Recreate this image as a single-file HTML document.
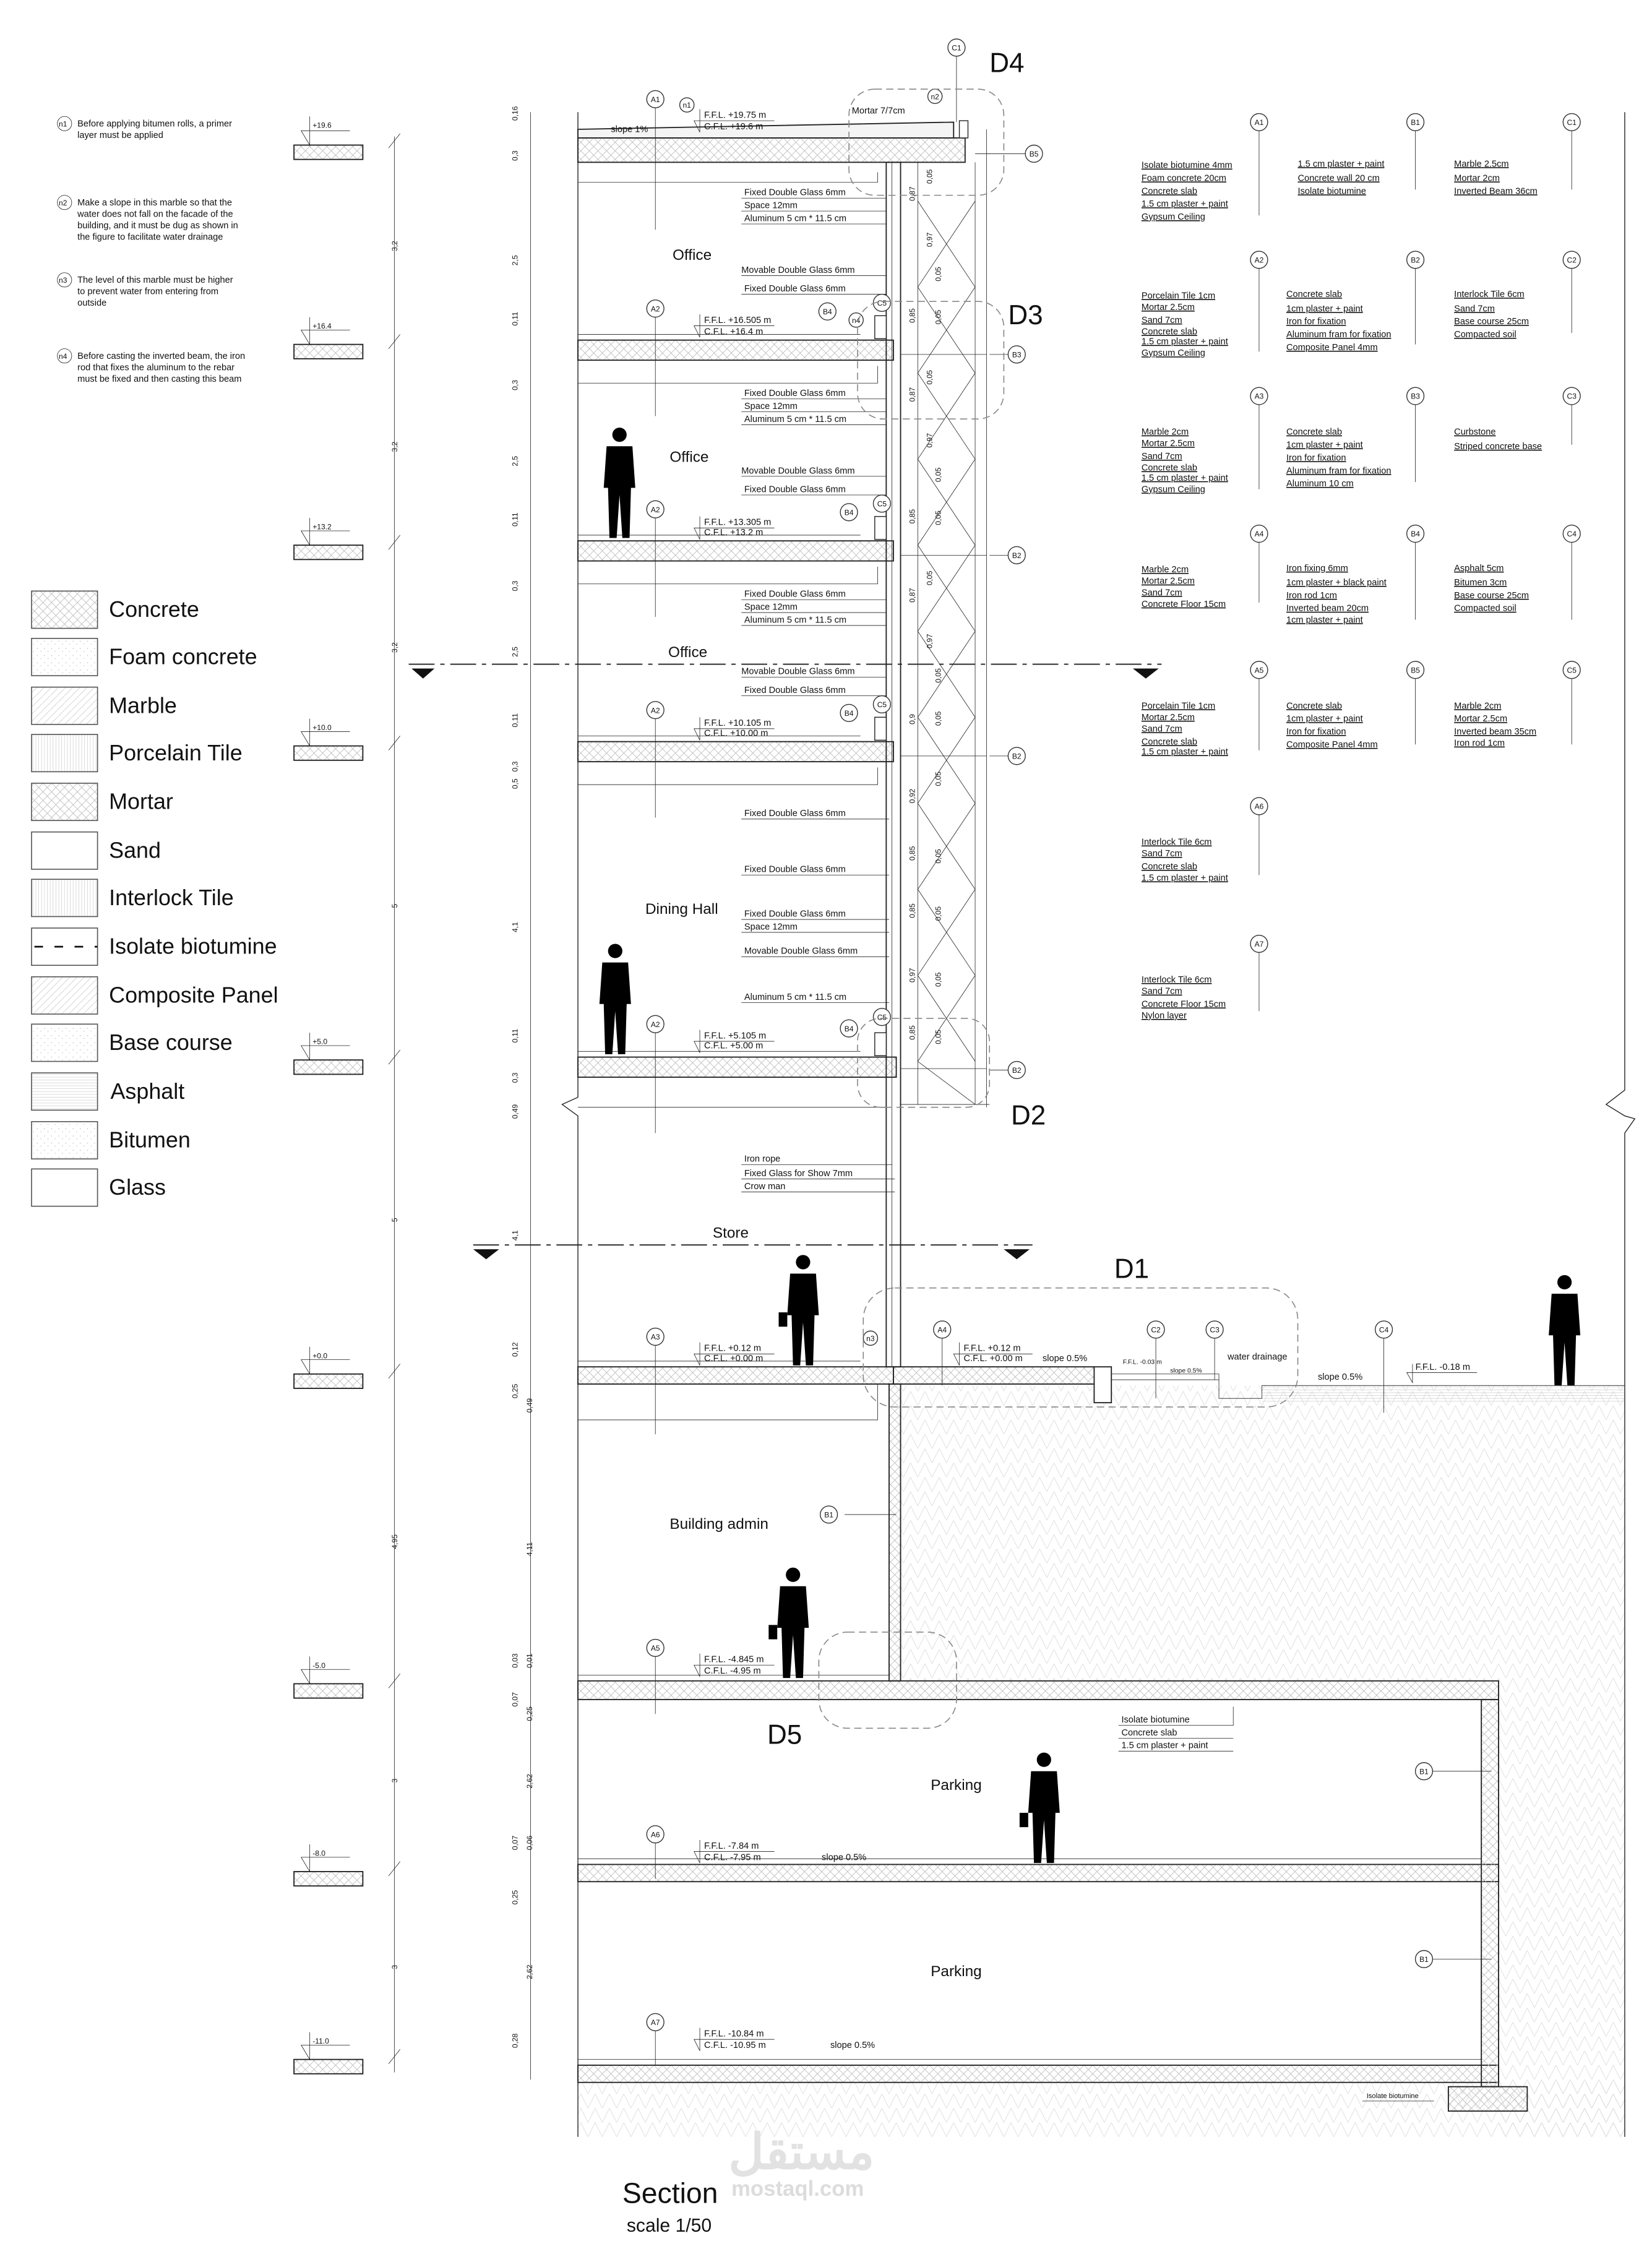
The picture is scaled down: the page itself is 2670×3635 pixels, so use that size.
<!DOCTYPE html>
<html><head><meta charset="utf-8"><style>
html,body{margin:0;padding:0;background:#fff;}
svg{display:block;}
text{font-family:"Liberation Sans",sans-serif;fill:#111;}
.s{font-size:6.3px;}
.t{font-size:5.2px;}
.l{stroke:#222;stroke-width:0.6;fill:none;}
.th{stroke:#222;stroke-width:0.35;fill:none;}
.c{fill:#fff;stroke:#333;stroke-width:0.6;}
.d{stroke:#888;stroke-width:0.7;fill:none;stroke-dasharray:5 3;}
</style></head><body>
<svg width="2670" height="3635" viewBox="0 0 1152 1568" xmlns="http://www.w3.org/2000/svg">
<defs>
<pattern id="cx" width="6" height="6" patternUnits="userSpaceOnUse"><path d="M0 0L6 6M6 0L0 6" stroke="#bbb" stroke-width="0.35"/></pattern>
<pattern id="soil" width="10" height="10" patternUnits="userSpaceOnUse"><path d="M0 10L5 0L10 10" stroke="#ddd" stroke-width="0.4" fill="none"/></pattern>
<pattern id="vt" width="2" height="4" patternUnits="userSpaceOnUse"><path d="M1 0V4" stroke="#ccc" stroke-width="0.3"/></pattern>
<pattern id="hz" width="4" height="2" patternUnits="userSpaceOnUse"><path d="M0 1H4" stroke="#ccc" stroke-width="0.3"/></pattern>
<pattern id="dg" width="5" height="5" patternUnits="userSpaceOnUse"><path d="M0 5L5 0" stroke="#ccc" stroke-width="0.35"/></pattern>
<pattern id="dot" width="5" height="5" patternUnits="userSpaceOnUse"><circle cx="1" cy="2" r="0.35" fill="#bbb"/><circle cx="3.5" cy="4" r="0.3" fill="#bbb"/></pattern>
<g id="man"><circle cx="0" cy="-72" r="5"/><path d="M-9 -64 L9 -64 L11 -35 L8 -35 L7 0 L2 0 L0 -30 L-2 0 L-7 0 L-8 -35 L-11 -35 Z"/></g>
</defs>

<!-- notes -->
<g class="s" font-size="6.3">
<text x="54" y="88">Before applying bitumen rolls, a primer</text><text x="54" y="96">layer must be applied</text>
<text x="54" y="143">Make a slope in this marble so that the</text><text x="54" y="151">water does not fall on the facade of the</text><text x="54" y="159">building, and it must be dug as shown in</text><text x="54" y="167">the figure to facilitate water drainage</text>
<text x="54" y="197">The level of this marble must be higher</text><text x="54" y="205">to prevent water from entering from</text><text x="54" y="213">outside</text>
<text x="54" y="250">Before casting the inverted beam, the iron</text><text x="54" y="258">rod that fixes the aluminum to the rebar</text><text x="54" y="266">must be fixed and then casting this beam</text>
</g>
<g class="t"><text x="41" y="88">n1</text><text x="41" y="143">n2</text><text x="41" y="197">n3</text><text x="41" y="250">n4</text></g>
<g class="th"><circle cx="45" cy="86" r="5"/><circle cx="45" cy="141" r="5"/><circle cx="45" cy="195" r="5"/><circle cx="45" cy="248" r="5"/></g>

<!-- level markers -->
<g>
<g><rect x="205" y="101" width="48" height="10" fill="url(#cx)" stroke="#222" stroke-width="0.8"/><path class="th" d="M216 81V101L210 91H244"/><text x="218" y="89" class="t">+19.6</text></g>
<g><rect x="205" y="240" width="48" height="10" fill="url(#cx)" stroke="#222" stroke-width="0.8"/><path class="th" d="M216 221V240L210 230H244"/><text x="218" y="229" class="t">+16.4</text></g>
<g><rect x="205" y="380" width="48" height="10" fill="url(#cx)" stroke="#222" stroke-width="0.8"/><path class="th" d="M216 361V380L210 370H244"/><text x="218" y="369" class="t">+13.2</text></g>
<g><rect x="205" y="520" width="48" height="10" fill="url(#cx)" stroke="#222" stroke-width="0.8"/><path class="th" d="M216 501V520L210 510H244"/><text x="218" y="509" class="t">+10.0</text></g>
<g><rect x="205" y="739" width="48" height="10" fill="url(#cx)" stroke="#222" stroke-width="0.8"/><path class="th" d="M216 720V739L210 729H244"/><text x="218" y="728" class="t">+5.0</text></g>
<g><rect x="205" y="958" width="48" height="10" fill="url(#cx)" stroke="#222" stroke-width="0.8"/><path class="th" d="M216 939V958L210 948H244"/><text x="218" y="947" class="t">+0.0</text></g>
<g><rect x="205" y="1174" width="48" height="10" fill="url(#cx)" stroke="#222" stroke-width="0.8"/><path class="th" d="M216 1155V1174L210 1164H244"/><text x="218" y="1163" class="t">-5.0</text></g>
<g><rect x="205" y="1305" width="48" height="10" fill="url(#cx)" stroke="#222" stroke-width="0.8"/><path class="th" d="M216 1286V1305L210 1295H244"/><text x="218" y="1294" class="t">-8.0</text></g>
<g><rect x="205" y="1436" width="48" height="10" fill="url(#cx)" stroke="#222" stroke-width="0.8"/><path class="th" d="M216 1417V1436L210 1426H244"/><text x="218" y="1425" class="t">-11.0</text></g>
</g>

<!-- left dim line -->
<path class="th" d="M275 95V1445"/>
<g class="th"><path d="M271 103L279 93M271 243L279 233M271 383L279 373M271 523L279 513M271 742L279 732M271 961L279 951M271 1177L279 1167M271 1308L279 1298M271 1439L279 1429"/></g>
<g class="t" font-size="6">
<text transform="translate(277,175) rotate(-90)">3,2</text>
<text transform="translate(277,315) rotate(-90)">3,2</text>
<text transform="translate(277,455) rotate(-90)">3,2</text>
<text transform="translate(277,633) rotate(-90)">5</text>
<text transform="translate(277,852) rotate(-90)">5</text>
<text transform="translate(277,1080) rotate(-90)">4,95</text>
<text transform="translate(277,1243) rotate(-90)">3</text>
<text transform="translate(277,1373) rotate(-90)">3</text>
</g>
<!-- second dim -->
<path class="th" d="M370 78V1450"/>
<g class="t" font-size="6">
<text transform="translate(361,84) rotate(-90)">0,16</text><text transform="translate(361,112) rotate(-90)">0,3</text><text transform="translate(361,185) rotate(-90)">2,5</text>
<text transform="translate(361,227) rotate(-90)">0,11</text><text transform="translate(361,272) rotate(-90)">0,3</text><text transform="translate(361,325) rotate(-90)">2,5</text>
<text transform="translate(361,367) rotate(-90)">0,11</text><text transform="translate(361,412) rotate(-90)">0,3</text><text transform="translate(361,458) rotate(-90)">2,5</text>
<text transform="translate(361,507) rotate(-90)">0,11</text><text transform="translate(361,538) rotate(-90)">0,3</text><text transform="translate(361,550) rotate(-90)">0,5</text><text transform="translate(361,650) rotate(-90)">4,1</text>
<text transform="translate(361,727) rotate(-90)">0,11</text><text transform="translate(361,755) rotate(-90)">0,3</text><text transform="translate(361,780) rotate(-90)">0,49</text><text transform="translate(361,865) rotate(-90)">4,1</text>
<text transform="translate(361,946) rotate(-90)">0,12</text><text transform="translate(361,975) rotate(-90)">0,25</text><text transform="translate(371,985) rotate(-90)">0,49</text><text transform="translate(371,1085) rotate(-90)">4,11</text>
<text transform="translate(361,1163) rotate(-90)">0,03</text><text transform="translate(371,1163) rotate(-90)">0,01</text><text transform="translate(361,1190) rotate(-90)">0,07</text><text transform="translate(371,1200) rotate(-90)">0,25</text><text transform="translate(371,1247) rotate(-90)">2,62</text>
<text transform="translate(361,1290) rotate(-90)">0,07</text><text transform="translate(371,1290) rotate(-90)">0,06</text><text transform="translate(361,1328) rotate(-90)">0,25</text><text transform="translate(371,1380) rotate(-90)">2,62</text>
<text transform="translate(361,1428) rotate(-90)">0,28</text>
</g>

<!-- legend -->
<g stroke="#555" stroke-width="0.7">
<rect x="22" y="412" width="46" height="26" fill="url(#cx)"/>
<rect x="22" y="445" width="46" height="26" fill="url(#dot)"/>
<rect x="22" y="479" width="46" height="26" fill="url(#dg)"/>
<rect x="22" y="512" width="46" height="26" fill="url(#vt)"/>
<rect x="22" y="546" width="46" height="26" fill="url(#cx)"/>
<rect x="22" y="580" width="46" height="26" fill="#fff"/>
<rect x="22" y="613" width="46" height="26" fill="url(#vt)"/>
<rect x="22" y="647" width="46" height="26" fill="#fff"/>
<rect x="22" y="681" width="46" height="26" fill="url(#dg)"/>
<rect x="22" y="714" width="46" height="26" fill="url(#dot)"/>
<rect x="22" y="748" width="46" height="26" fill="url(#hz)"/>
<rect x="22" y="782" width="46" height="26" fill="url(#dot)"/>
<rect x="22" y="815" width="46" height="26" fill="#fff"/>
</g>
<path d="M22 660H68" stroke="#111" stroke-width="1.2" stroke-dasharray="6 8" stroke-dashoffset="-2"/>
<g font-size="15.5">
<text x="76" y="430">Concrete</text><text x="76" y="463">Foam concrete</text><text x="76" y="497">Marble</text><text x="76" y="530">Porcelain Tile</text><text x="76" y="564">Mortar</text><text x="76" y="598">Sand</text><text x="76" y="631">Interlock Tile</text><text x="76" y="665">Isolate biotumine</text><text x="76" y="699">Composite Panel</text><text x="76" y="732">Base course</text><text x="77" y="766">Asphalt</text><text x="76" y="800">Bitumen</text><text x="76" y="833">Glass</text>
</g>

<!-- soil -->
<rect x="628" y="966" width="505" height="206" fill="url(#soil)"/>
<rect x="1045" y="1172" width="88" height="318" fill="url(#soil)"/>
<rect x="403" y="1452" width="730" height="38" fill="url(#soil)"/>
<rect x="880" y="966" width="253" height="12" fill="url(#hz)"/>

<!-- building outline -->
<path class="l" d="M403 78V765L392 770L403 778V1490"/>
<path class="l" d="M1133 78V760L1120 770L1133 778L1140 780L1133 790V1490"/>

<!-- slabs -->
<g stroke="#222" stroke-width="0.8">
<path d="M403 90L665 85V96H403Z" fill="#f4f4f4"/>
<rect x="403" y="96" width="270" height="17" fill="url(#cx)"/>
<rect x="403" y="237" width="220" height="14" fill="url(#cx)"/>
<rect x="403" y="377" width="220" height="14" fill="url(#cx)"/>
<rect x="403" y="517" width="220" height="14" fill="url(#cx)"/>
<rect x="403" y="737" width="222" height="14" fill="url(#cx)"/>
<rect x="403" y="953" width="220" height="12" fill="url(#cx)"/>
<rect x="623" y="953" width="140" height="12" fill="url(#cx)"/>
<rect x="403" y="1172" width="642" height="13" fill="url(#cx)"/>
<rect x="403" y="1300" width="642" height="12" fill="url(#cx)"/>
<rect x="403" y="1440" width="642" height="12" fill="url(#cx)"/>
<rect x="1033" y="1185" width="12" height="270" fill="url(#cx)"/>
<rect x="1010" y="1455" width="55" height="17" fill="url(#cx)"/>
<rect x="618" y="113" width="10" height="840" fill="none"/>
<rect x="620" y="965" width="8" height="207" fill="url(#cx)"/>
<rect x="763" y="953" width="12" height="25" fill="#fff"/>
</g>
<g class="th">
<path d="M403 233H600M403 373H600M403 513H600M403 733H600M403 949H600M403 1168H620M403 1296H1033M403 1436H1033"/>
<path d="M403 127H612V120M403 267H612V255M403 407H612V395M403 547H612V535M403 772H618V751M403 990H612V965"/>
<path d="M775 958H850V975H880V966H1133M775 962H850"/>
</g>

<!-- facade -->
<g class="th">
<path d="M622 113V953M628 113V953M640 113V770M680 113V770M688 90V772"/>
<path d="M640 140L680 200L640 260L680 320L640 380L680 440L640 500L680 560L640 620L680 680L640 740L680 770M680 140L640 200L680 260L640 320L680 380L640 440L680 500L640 560L680 620L640 680L680 740"/>
<path d="M628 247H688M628 387H688M628 527H688M628 745H688M628 770H690"/>
</g>
<g fill="#fff" stroke="#222" stroke-width="0.6"><rect x="610" y="220" width="8" height="16"/><rect x="610" y="360" width="8" height="16"/><rect x="610" y="500" width="8" height="16"/><rect x="610" y="720" width="8" height="16"/><rect x="669" y="84" width="6" height="12"/></g>

<!-- facade dims -->
<g class="t" font-size="6">
<text transform="translate(638,140) rotate(-90)">0,87</text><text transform="translate(650,128) rotate(-90)">0,05</text><text transform="translate(650,172) rotate(-90)">0,97</text><text transform="translate(656,196) rotate(-90)">0,05</text><text transform="translate(638,225) rotate(-90)">0,85</text><text transform="translate(656,226) rotate(-90)">0,05</text>
<text transform="translate(638,280) rotate(-90)">0,87</text><text transform="translate(650,268) rotate(-90)">0,05</text><text transform="translate(650,312) rotate(-90)">0,97</text><text transform="translate(656,336) rotate(-90)">0,05</text><text transform="translate(638,365) rotate(-90)">0,85</text><text transform="translate(656,366) rotate(-90)">0,05</text>
<text transform="translate(638,420) rotate(-90)">0,87</text><text transform="translate(650,408) rotate(-90)">0,05</text><text transform="translate(650,452) rotate(-90)">0,97</text><text transform="translate(656,476) rotate(-90)">0,05</text><text transform="translate(638,505) rotate(-90)">0,9</text><text transform="translate(656,506) rotate(-90)">0,05</text>
<text transform="translate(638,560) rotate(-90)">0,92</text><text transform="translate(656,548) rotate(-90)">0,05</text><text transform="translate(638,600) rotate(-90)">0,85</text><text transform="translate(656,602) rotate(-90)">0,05</text><text transform="translate(638,640) rotate(-90)">0,85</text><text transform="translate(656,642) rotate(-90)">0,05</text><text transform="translate(638,685) rotate(-90)">0,97</text><text transform="translate(656,688) rotate(-90)">0,05</text><text transform="translate(638,725) rotate(-90)">0,85</text><text transform="translate(656,728) rotate(-90)">0,05</text>
</g>

<!-- facade labels -->
<g class="s" font-size="6.2">
<text x="519" y="136">Fixed Double Glass 6mm</text><text x="519" y="145">Space 12mm</text><text x="519" y="154">Aluminum 5 cm * 11.5 cm</text><text x="517" y="190">Movable Double Glass 6mm</text><text x="519" y="203">Fixed Double Glass 6mm</text>
<text x="519" y="276">Fixed Double Glass 6mm</text><text x="519" y="285">Space 12mm</text><text x="519" y="294">Aluminum 5 cm * 11.5 cm</text><text x="517" y="330">Movable Double Glass 6mm</text><text x="519" y="343">Fixed Double Glass 6mm</text>
<text x="519" y="416">Fixed Double Glass 6mm</text><text x="519" y="425">Space 12mm</text><text x="519" y="434">Aluminum 5 cm * 11.5 cm</text><text x="517" y="470">Movable Double Glass 6mm</text><text x="519" y="483">Fixed Double Glass 6mm</text>
<text x="519" y="569">Fixed Double Glass 6mm</text><text x="519" y="608">Fixed Double Glass 6mm</text><text x="519" y="639">Fixed Double Glass 6mm</text><text x="519" y="648">Space 12mm</text><text x="519" y="665">Movable Double Glass 6mm</text><text x="519" y="697">Aluminum 5 cm * 11.5 cm</text>
<text x="519" y="810">Iron rope</text><text x="519" y="820">Fixed Glass for Show 7mm</text><text x="519" y="829">Crow man</text>
</g>
<g class="th"><path d="M517 138H618M517 147H618M517 156H618M517 192H618M517 205H618M517 278H618M517 287H618M517 296H618M517 332H618M517 345H618M517 418H618M517 427H618M517 436H618M517 472H618M517 485H618M517 571H620M517 610H620M517 641H620M517 650H620M517 667H620M517 699H620M517 812H622M517 822H624M517 831H624"/></g>

<!-- floor labels -->
<g class="s" font-size="5.6">
<text x="491" y="82">F.F.L. +19.75 m</text><text x="491" y="90">C.F.L. +19.6 m</text>
<text x="491" y="225">F.F.L. +16.505 m</text><text x="491" y="233">C.F.L. +16.4 m</text>
<text x="491" y="366">F.F.L. +13.305 m</text><text x="491" y="373">C.F.L. +13.2 m</text>
<text x="491" y="506">F.F.L. +10.105 m</text><text x="491" y="513">C.F.L. +10.00 m</text>
<text x="491" y="724">F.F.L. +5.105 m</text><text x="491" y="731">C.F.L. +5.00 m</text>
<text x="491" y="942">F.F.L. +0.12 m</text><text x="491" y="949">C.F.L. +0.00 m</text>
<text x="672" y="942">F.F.L. +0.12 m</text><text x="672" y="949">C.F.L. +0.00 m</text>
<text x="491" y="1159">F.F.L. -4.845 m</text><text x="491" y="1167">C.F.L. -4.95 m</text>
<text x="491" y="1289">F.F.L. -7.84 m</text><text x="491" y="1297">C.F.L. -7.95 m</text>
<text x="491" y="1420">F.F.L. -10.84 m</text><text x="491" y="1428">C.F.L. -10.95 m</text>
<text x="987" y="955">F.F.L. -0.18 m</text><text x="783" y="951" font-size="4.5">F.F.L. -0.03 m</text>
<text x="594" y="79">Mortar 7/7cm</text>
<text x="426" y="92">slope 1%</text><text x="727" y="949">slope 0.5%</text><text x="919" y="962">slope 0.5%</text><text x="573" y="1297">slope 0.5%</text><text x="579" y="1428">slope 0.5%</text><text x="816" y="957" font-size="4.5">slope 0.5%</text><text x="856" y="948">water drainage</text>
<text x="782" y="1201">Isolate biotumine</text><text x="782" y="1210">Concrete slab</text><text x="782" y="1219">1.5 cm plaster + paint</text>
<text x="953" y="1463" font-size="4.8">Isolate biotumine</text>
</g>
<g class="th"><path d="M488 76V92L484 84H540M488 219V235L484 227H540M488 360V376L484 368H540M488 500V516L484 508H540M488 718V734L484 726H540M488 936V952L484 944H540M669 936V952L665 944H720M488 1153V1169L484 1161H540M488 1283V1299L484 1291H540M488 1414V1430L484 1422H540M985 951V964L981 957H1030M780 1203H860V1190M780 1212H860M780 1221H860M950 1465H1000"/></g>

<!-- circle tags in drawing -->
<g class="th">
<path d="M457 75V160M457 221V290M457 361V430M457 501V570M457 720V790M457 938V1000M457 1155V1195M457 1285V1310M457 1416V1440M657 933V966M806 933V975M847 933V962M965 933V985M589 1056H625M996 1235H1040M996 1366H1040M724 107H680M710 247H690M710 387H690M710 527H690M710 746H690M667 38V85"/>
</g>
<g font-size="5.2" text-anchor="middle">
<g class="c"><circle cx="457" cy="69" r="6"/><circle cx="457" cy="215" r="6"/><circle cx="457" cy="355" r="6"/><circle cx="457" cy="495" r="6"/><circle cx="457" cy="714" r="6"/><circle cx="457" cy="932" r="6"/><circle cx="457" cy="1149" r="6"/><circle cx="457" cy="1279" r="6"/><circle cx="457" cy="1410" r="6"/><circle cx="657" cy="927" r="6"/><circle cx="806" cy="927" r="6"/><circle cx="847" cy="927" r="6"/><circle cx="965" cy="927" r="6"/><circle cx="578" cy="1056" r="6"/><circle cx="993" cy="1235" r="6"/><circle cx="993" cy="1366" r="6"/><circle cx="721" cy="107" r="6"/><circle cx="709" cy="247" r="6"/><circle cx="709" cy="387" r="6"/><circle cx="709" cy="527" r="6"/><circle cx="709" cy="746" r="6"/><circle cx="667" cy="33" r="6"/><circle cx="592" cy="357" r="6"/><circle cx="592" cy="497" r="6"/><circle cx="592" cy="717" r="6"/><circle cx="577" cy="217" r="6"/><circle cx="615" cy="211" r="6"/><circle cx="615" cy="351" r="6"/><circle cx="615" cy="491" r="6"/><circle cx="615" cy="709" r="6"/><circle cx="479" cy="73" r="5"/><circle cx="652" cy="67" r="5"/><circle cx="597" cy="223" r="5"/><circle cx="607" cy="933" r="5"/></g>
<text x="457" y="71">A1</text><text x="457" y="217">A2</text><text x="457" y="357">A2</text><text x="457" y="497">A2</text><text x="457" y="716">A2</text><text x="457" y="934">A3</text><text x="457" y="1151">A5</text><text x="457" y="1281">A6</text><text x="457" y="1412">A7</text><text x="657" y="929">A4</text><text x="806" y="929">C2</text><text x="847" y="929">C3</text><text x="965" y="929">C4</text><text x="578" y="1058">B1</text><text x="993" y="1237">B1</text><text x="993" y="1368">B1</text><text x="721" y="109">B5</text><text x="709" y="249">B3</text><text x="709" y="389">B2</text><text x="709" y="529">B2</text><text x="709" y="748">B2</text><text x="667" y="35">C1</text><text x="592" y="359">B4</text><text x="592" y="499">B4</text><text x="592" y="719">B4</text><text x="577" y="219">B4</text><text x="615" y="213">C5</text><text x="615" y="353">C5</text><text x="615" y="493">C5</text><text x="615" y="711">C5</text><text x="479" y="75">n1</text><text x="652" y="69">n2</text><text x="597" y="225">n4</text><text x="607" y="935">n3</text>
</g>

<!-- detail callouts -->
<g class="d">
<rect x="592" y="62" width="108" height="74" rx="18"/>
<rect x="598" y="210" width="102" height="82" rx="18"/>
<rect x="598" y="710" width="92" height="62" rx="16"/>
<rect x="602" y="898" width="303" height="83" rx="22"/>
<rect x="571" y="1138" width="96" height="67" rx="20"/>
</g>
<g font-size="19"><text x="690" y="50">D4</text><text x="703" y="226">D3</text><text x="705" y="784">D2</text><text x="777" y="891">D1</text><text x="535" y="1216">D5</text></g>

<!-- section cut lines -->
<path d="M285 463H810" stroke="#222" stroke-width="0.8" stroke-dasharray="18 4 3 4"/>
<path d="M330 868H720" stroke="#222" stroke-width="0.8" stroke-dasharray="18 4 3 4"/>
<g fill="#111"><path d="M287 466H303L295 473Z"/><path d="M790 466H808L799 473Z"/><path d="M330 871H348L339 878Z"/><path d="M700 871H718L709 878Z"/></g>

<!-- room labels -->
<g font-size="10.5">
<text x="469" y="181">Office</text><text x="467" y="322">Office</text><text x="466" y="458">Office</text><text x="450" y="637">Dining Hall</text><text x="497" y="863">Store</text><text x="467" y="1066">Building admin</text><text x="649" y="1248">Parking</text><text x="649" y="1378">Parking</text>
</g>

<!-- people -->
<g fill="#000">
<use href="#man" transform="translate(432,375)"/>
<use href="#man" transform="translate(429,735)"/>
<use href="#man" transform="translate(560,952)"/>
<use href="#man" transform="translate(553,1170)"/>
<use href="#man" transform="translate(728,1299)"/>
<use href="#man" transform="translate(1091,966)"/>
<rect x="543" y="915" width="6" height="10"/><rect x="536" y="1133" width="6" height="10"/><rect x="711" y="1264" width="6" height="10"/>
</g>

<!-- spec tables -->
<g class="th">
<path d="M878 91V150M987 91V132M1096 91V132M878 186V245M987 186V240M1096 186V232M878 282V341M987 282V336M1096 282V310M878 377V420M987 377V432M1096 377V432M878 472V523M987 472V519M1096 472V519M878 568V610M878 663V705"/>
</g>
<g class="c"><circle cx="878" cy="85" r="6"/><circle cx="987" cy="85" r="6"/><circle cx="1096" cy="85" r="6"/><circle cx="878" cy="181" r="6"/><circle cx="987" cy="181" r="6"/><circle cx="1096" cy="181" r="6"/><circle cx="878" cy="276" r="6"/><circle cx="987" cy="276" r="6"/><circle cx="1096" cy="276" r="6"/><circle cx="878" cy="372" r="6"/><circle cx="987" cy="372" r="6"/><circle cx="1096" cy="372" r="6"/><circle cx="878" cy="467" r="6"/><circle cx="987" cy="467" r="6"/><circle cx="1096" cy="467" r="6"/><circle cx="878" cy="562" r="6"/><circle cx="878" cy="658" r="6"/></g>
<g font-size="5.2" text-anchor="middle"><text x="878" y="87">A1</text><text x="987" y="87">B1</text><text x="1096" y="87">C1</text><text x="878" y="183">A2</text><text x="987" y="183">B2</text><text x="1096" y="183">C2</text><text x="878" y="278">A3</text><text x="987" y="278">B3</text><text x="1096" y="278">C3</text><text x="878" y="374">A4</text><text x="987" y="374">B4</text><text x="1096" y="374">C4</text><text x="878" y="469">A5</text><text x="987" y="469">B5</text><text x="1096" y="469">C5</text><text x="878" y="564">A6</text><text x="878" y="660">A7</text></g>
<g font-size="6.3" text-decoration="underline">
<text x="796" y="117">Isolate biotumine 4mm</text><text x="796" y="126">Foam concrete 20cm</text><text x="796" y="135">Concrete slab</text><text x="796" y="144">1.5 cm plaster + paint</text><text x="796" y="153">Gypsum Ceiling</text>
<text x="905" y="116">1.5 cm plaster + paint</text><text x="905" y="126">Concrete wall 20 cm</text><text x="905" y="135">Isolate biotumine</text>
<text x="1014" y="116">Marble 2.5cm</text><text x="1014" y="126">Mortar 2cm</text><text x="1014" y="135">Inverted Beam 36cm</text>
<text x="796" y="208">Porcelain Tile 1cm</text><text x="796" y="216">Mortar 2.5cm</text><text x="796" y="225">Sand 7cm</text><text x="796" y="233">Concrete slab</text><text x="796" y="240">1.5 cm plaster + paint</text><text x="796" y="248">Gypsum Ceiling</text>
<text x="897" y="207">Concrete slab</text><text x="897" y="217">1cm plaster + paint</text><text x="897" y="226">Iron for fixation</text><text x="897" y="235">Aluminum fram for fixation</text><text x="897" y="244">Composite Panel 4mm</text>
<text x="1014" y="207">Interlock Tile 6cm</text><text x="1014" y="217">Sand 7cm</text><text x="1014" y="226">Base course 25cm</text><text x="1014" y="235">Compacted soil</text>
<text x="796" y="303">Marble 2cm</text><text x="796" y="311">Mortar 2.5cm</text><text x="796" y="320">Sand 7cm</text><text x="796" y="328">Concrete slab</text><text x="796" y="335">1.5 cm plaster + paint</text><text x="796" y="343">Gypsum Ceiling</text>
<text x="897" y="303">Concrete slab</text><text x="897" y="312">1cm plaster + paint</text><text x="897" y="321">Iron for fixation</text><text x="897" y="330">Aluminum fram for fixation</text><text x="897" y="339">Aluminum 10 cm</text>
<text x="1014" y="303">Curbstone</text><text x="1014" y="313">Striped concrete base</text>
<text x="796" y="399">Marble 2cm</text><text x="796" y="407">Mortar 2.5cm</text><text x="796" y="415">Sand 7cm</text><text x="796" y="423">Concrete Floor 15cm</text>
<text x="897" y="398">Iron fixing 6mm</text><text x="897" y="408">1cm plaster + black  paint</text><text x="897" y="417">Iron rod 1cm</text><text x="897" y="426">Inverted beam 20cm</text><text x="897" y="434">1cm plaster + paint</text>
<text x="1014" y="398">Asphalt 5cm</text><text x="1014" y="408">Bitumen 3cm</text><text x="1014" y="417">Base course 25cm</text><text x="1014" y="426">Compacted soil</text>
<text x="796" y="494">Porcelain Tile 1cm</text><text x="796" y="502">Mortar 2.5cm</text><text x="796" y="510">Sand 7cm</text><text x="796" y="519">Concrete slab</text><text x="796" y="526">1.5 cm plaster + paint</text>
<text x="897" y="494">Concrete slab</text><text x="897" y="503">1cm plaster + paint</text><text x="897" y="512">Iron for fixation</text><text x="897" y="521">Composite Panel 4mm</text>
<text x="1014" y="494">Marble 2cm</text><text x="1014" y="503">Mortar 2.5cm</text><text x="1014" y="512">Inverted beam 35cm</text><text x="1014" y="520">Iron rod 1cm</text>
<text x="796" y="589">Interlock Tile 6cm</text><text x="796" y="597">Sand 7cm</text><text x="796" y="606">Concrete slab</text><text x="796" y="614">1.5 cm plaster + paint</text>
<text x="796" y="685">Interlock Tile 6cm</text><text x="796" y="693">Sand 7cm</text><text x="796" y="702">Concrete Floor 15cm</text><text x="796" y="710">Nylon layer</text>
</g>

<!-- watermark & title -->
<text x="508" y="1512" font-size="34" style="fill:#e2e2e2" font-family="'Liberation Sans','Noto Sans CJK SC',sans-serif" font-weight="bold">مستقل</text>
<text x="510" y="1531" font-size="15" style="fill:#dcdcdc" font-weight="bold">mostaql.com</text>
<text x="434" y="1536" font-size="20">Section</text>
<text x="437" y="1556" font-size="13">scale 1/50</text>
</svg>
</body></html>
